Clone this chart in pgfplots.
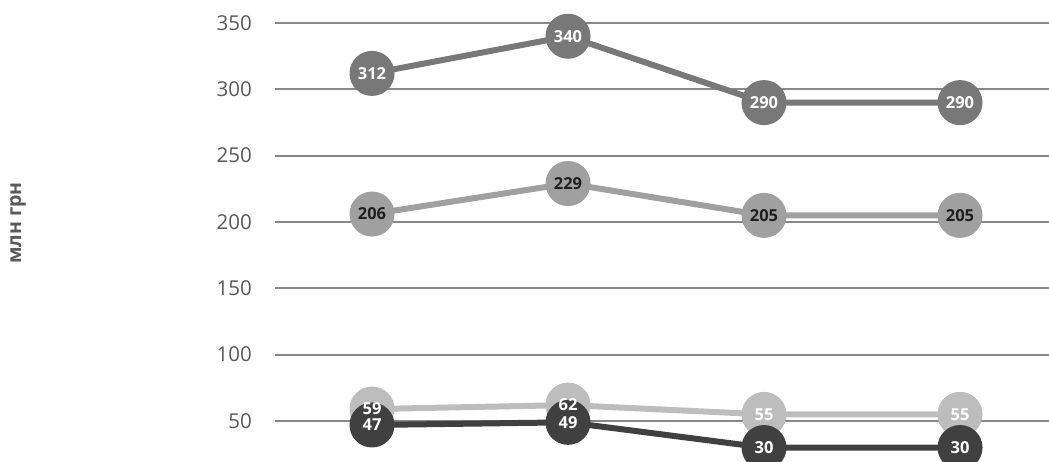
\documentclass[border=0pt]{standalone}
\usepackage{pgfplots}
\pgfplotsset{compat=1.18}
\usepackage{fontspec}
\setmainfont{Open Sans}
\definecolor{sA}{HTML}{787878}
\definecolor{sB}{HTML}{A0A0A0}
\definecolor{sC}{HTML}{BDBDBD}
\definecolor{sD}{HTML}{404040}
\definecolor{gridc}{HTML}{888888}
\definecolor{tickc}{HTML}{595959}
\begin{document}
\begin{tikzpicture}
\path[use as bounding box, clip] (-275pt,0pt) rectangle (774pt,462pt);
\begin{axis}[
  at={(0pt,0pt)}, anchor=south west,
  scale only axis, width=774pt, height=439pt,
  xmin=-0.495, xmax=3.454, ymin=19.1, ymax=350,
  ytick={50,100,...,350}, xtick=\empty,
  ymajorgrids, grid style={gridc, line width=2pt},
  axis line style={draw=none},
  major tick length=0pt,
  /pgf/number format/assume math mode=true,
  yticklabel style={font=\fontsize{20.5}{24}\selectfont, text=tickc, inner sep=0pt, anchor=east, xshift=-23pt},
  ylabel={млн грн},
  ylabel style={at={(axis description cs:-0.332,0.544)}, anchor=center, rotate=0, font=\bfseries\fontsize{19.5}{23}\selectfont, text=tickc},
  every axis plot/.append style={line width=6pt},
  nodes near coords align={anchor=center},
]
\addplot[sA, mark=*, mark size=19.5pt, mark options={draw=none, fill=sA}] coordinates {(0,312) (1,340) (2,290) (3,290)};
\addplot[sB, mark=*, mark size=19.5pt, mark options={draw=none, fill=sB}] coordinates {(0,206) (1,229) (2,205) (3,205)};
\addplot[sC, mark=*, mark size=19.5pt, mark options={draw=none, fill=sC}] coordinates {(0,59) (1,62) (2,55) (3,55)};
\addplot[sD, mark=*, mark size=19.5pt, mark options={draw=none, fill=sD}] coordinates {(0,47) (1,49) (2,30) (3,30)};
% labels
\addplot[draw=none, mark=none, nodes near coords, every node near coord/.append style={font=\bfseries\fontsize{16.5}{19}\selectfont, text=white}] coordinates {(0,312) (1,340) (2,290) (3,290)};
\addplot[draw=none, mark=none, nodes near coords, every node near coord/.append style={font=\bfseries\fontsize{16.5}{19}\selectfont, text=black!88}] coordinates {(0,206) (1,229) (2,205) (3,205)};
\addplot[draw=none, mark=none, nodes near coords, every node near coord/.append style={font=\bfseries\fontsize{16.5}{19}\selectfont, text=white}] coordinates {(0,59) (1,62) (2,55) (3,55)};
\addplot[draw=none, mark=none, nodes near coords, every node near coord/.append style={font=\bfseries\fontsize{16.5}{19}\selectfont, text=white}] coordinates {(0,47) (1,49) (2,30) (3,30)};
\end{axis}
\end{tikzpicture}
\end{document}
